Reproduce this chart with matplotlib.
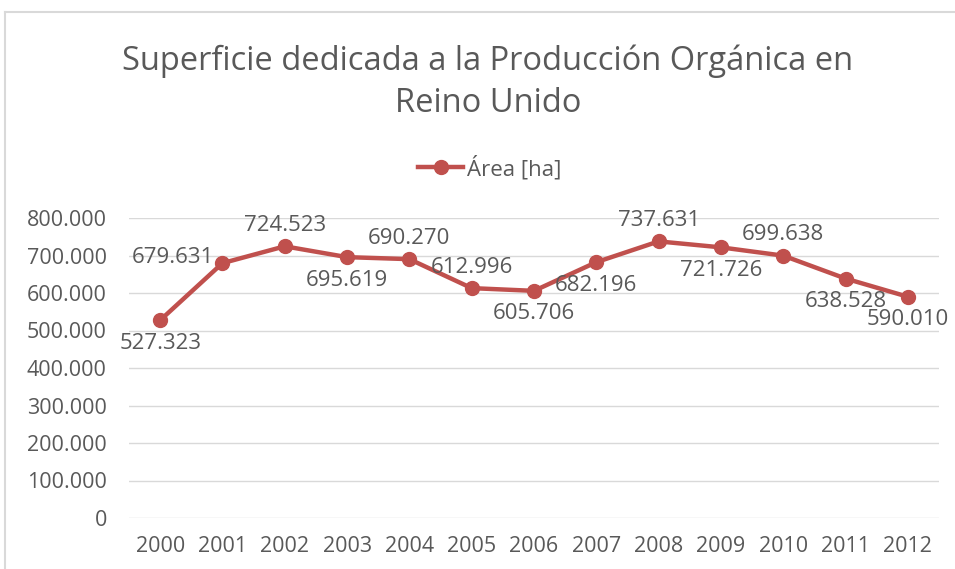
import matplotlib.pyplot as plt
from matplotlib.lines import Line2D

years = ["2000", "2001", "2002", "2003", "2004", "2005", "2006",
         "2007", "2008", "2009", "2010", "2011", "2012"]
area_ha = [527323, 679631, 724523, 695619, 690270, 612996, 605706,
           682196, 737631, 721726, 699638, 638528, 590010]
label_text = ["527.323", "679.631", "724.523", "695.619", "690.270", "612.996", "605.706",
              "682.196", "737.631", "721.726", "699.638", "638.528", "590.010"]
# where each value label sits relative to its point
label_pos = ["below", "left", "above", "below", "above", "above", "below",
             "below", "above", "below", "above", "below", "below"]
y_ticks = [0, 100000, 200000, 300000, 400000, 500000, 600000, 700000, 800000]
y_tick_labels = ["0", "100.000", "200.000", "300.000", "400.000", "500.000",
                 "600.000", "700.000", "800.000"]

RED = "#C0504D"
GREY_TEXT = "#595959"
W, H = 955, 569

plt.rcParams['font.family'] = ['Open Sans', 'DejaVu Sans']

fig = plt.figure(figsize=(W / 100, H / 100), dpi=100)
fig.patch.set_facecolor("white")

# plot area in pixel coordinates of the reference
left, right, top, bottom = 129, 939, 218, 518
ax = fig.add_axes([left / W, 1 - bottom / H, (right - left) / W, (bottom - top) / H])

x = list(range(len(years)))
ax.plot(x, area_ha, color=RED, linewidth=3.2, marker="o", markersize=10,
        solid_capstyle="round", zorder=3)

offsets = {"above": (0, 21, "center"), "below": (0, -23, "center"), "left": (-8, 6, "right")}
for xi, val, txt, pos in zip(x, area_ha, label_text, label_pos):
    dx, dy, ha = offsets[pos]
    ax.annotate(txt, (xi, val), xytext=(dx, dy), textcoords="offset pixels",
                ha=ha, va="center", fontsize=16, color=GREY_TEXT)

ax.set_xlim(-0.5, len(years) - 0.5)
ax.set_ylim(0, 800000)
ax.set_yticks(y_ticks)
ax.set_yticklabels(y_tick_labels)
ax.set_xticks(x)
ax.set_xticklabels(years)
ax.tick_params(axis="both", length=0, labelsize=15.5, colors=GREY_TEXT)
ax.tick_params(axis="x", pad=13)
ax.tick_params(axis="y", pad=16)
ax.grid(axis="y", color="#D9D9D9", linewidth=1)
ax.set_axisbelow(True)
for s in ax.spines.values():
    s.set_visible(False)

fig.text(488 / W, 1 - 82 / H, "Superficie dedicada a la Producción Orgánica en\nReino Unido",
         ha="center", va="center", fontsize=23.5, color=GREY_TEXT, linespacing=1.35)

handle = Line2D([], [], color=RED, linewidth=3.2, marker="o", markersize=10)
fig.legend([handle], ["Área [ha]"], loc="center", bbox_to_anchor=(490 / W, 1 - 168 / H),
           frameon=False, fontsize=16, labelcolor=GREY_TEXT, handlelength=2.0,
           handletextpad=0.2)

# outer chart border (partly cropped in the reference)
fig.add_artist(Line2D([5 / W, 1], [1 - 12 / H, 1 - 12 / H], color="#D9D9D9", linewidth=1.5))
fig.add_artist(Line2D([5 / W, 5 / W], [0, 1 - 12 / H], color="#D9D9D9", linewidth=1.5))

fig.savefig("out.png", dpi=100)
